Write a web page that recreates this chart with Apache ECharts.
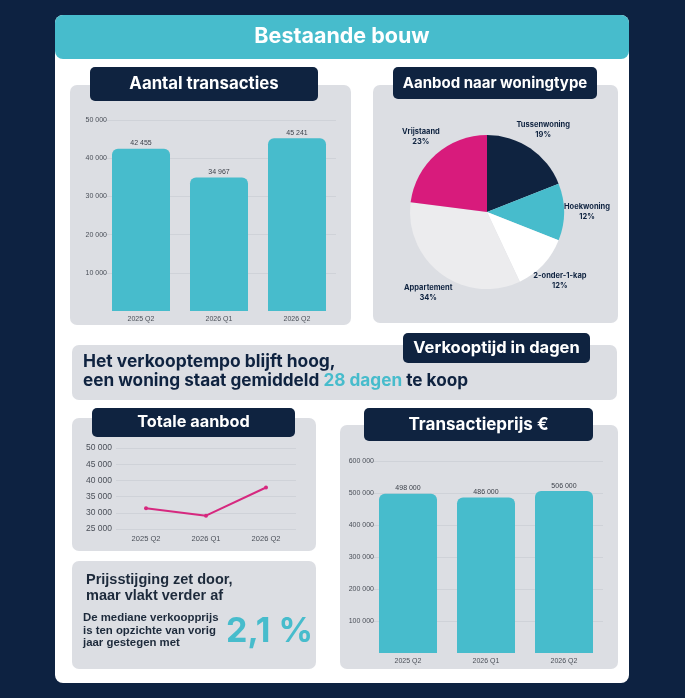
<!DOCTYPE html>
<html>
<head>
<meta charset="utf-8">
<script src="https://cdn.jsdelivr.net/npm/echarts@6/dist/echarts.min.js"></script>
<style>
  html, body { margin: 0; padding: 0; background: #0d2241; }
  #main { width: 685px; height: 698px; }
</style>
</head>
<body>
<div id="main"></div>
<script>
// data
const quarters = ['2025 Q2', '2026 Q1', '2026 Q2'];
const transacties = [42455, 34967, 45241];
const totaalAanbod = [31400, 29100, 37800];
const transactiePrijs = [498000, 486000, 506000];
const woningTypes = ['Tussenwoning', 'Hoekwoning', '2-onder-1-kap', 'Appartement', 'Vrijstaand'];
const woningAandeel = [19, 12, 12, 34, 23];

const NAVY = '#0f2340';
const TEAL = '#47bccc';
const PINK = '#d81b7c';
const PANEL = '#dcdee3';
const TITLE_FONT = 'Inter, "DejaVu Sans", sans-serif';
const BODY_FONT = '"Liberation Sans", Arial, sans-serif';

function fmt(v) {
  return String(v).replace(/\B(?=(\d{3})+(?!\d))/g, ' ');
}

function panel(x, y, w, h) {
  return { type: 'rect', z: 1, shape: { x: x, y: y, width: w, height: h, r: 7 }, style: { fill: PANEL } };
}

function badge(x, y, w, h, text, size) {
  return [
    { type: 'rect', z: 5, shape: { x: x, y: y, width: w, height: h, r: 5 }, style: { fill: NAVY } },
    {
      type: 'text', z: 6, x: x + w / 2, y: y + h / 2,
      style: { text: text, fill: '#fff', font: 'bold ' + size + 'px ' + TITLE_FONT, align: 'center', verticalAlign: 'middle' }
    }
  ];
}

function txt(x, y, text, font, color, align) {
  return {
    type: 'text', z: 6, x: x, y: y,
    style: { text: text, fill: color || NAVY, font: font, align: align || 'left', verticalAlign: 'middle' }
  };
}

const graphics = [
  // white card + teal header
  { type: 'rect', z: 0, shape: { x: 55, y: 15, width: 574, height: 668, r: 8 }, style: { fill: '#ffffff' } },
  { type: 'rect', z: 0, shape: { x: 55, y: 15, width: 574, height: 44, r: 8 }, style: { fill: TEAL } },
  txt(342, 37, 'Bestaande bouw', 'bold 21.5px ' + TITLE_FONT, '#ffffff', 'center'),

  panel(70, 85, 281, 240),
  panel(373, 85, 245, 238),
  panel(72, 345, 545, 55),
  panel(72, 418, 244, 133),
  panel(72, 561, 244, 108),
  panel(340, 425, 278, 244),

  ...badge(90, 67, 228, 34, 'Aantal transacties', 16.8),
  ...badge(393, 67, 204, 32, 'Aanbod naar woningtype', 15),
  ...badge(403, 333, 187, 30, 'Verkooptijd in dagen', 16.5),
  ...badge(92, 408, 203, 29, 'Totale aanbod', 16.3),
  ...badge(364, 408, 229, 33, 'Transactieprijs €', 17),

  // verkooptijd text
  txt(83, 362, 'Het verkooptempo blijft hoog,', 'bold 17.4px ' + TITLE_FONT),
  {
    type: 'text', z: 6, x: 83, y: 381,
    style: {
      text: '{a|een woning staat gemiddeld }{b|28 dagen}{a| te koop}',
      verticalAlign: 'middle',
      rich: {
        a: { font: 'bold 17.2px ' + TITLE_FONT, fill: NAVY },
        b: { font: 'bold 17.2px ' + TITLE_FONT, fill: TEAL }
      }
    }
  },

  // prijsstijging text
  txt(86, 580, 'Prijsstijging zet door,', 'bold 14.5px ' + BODY_FONT, '#1d2a3b'),
  txt(86, 596, 'maar vlakt verder af', 'bold 14.5px ' + BODY_FONT, '#1d2a3b'),
  txt(83, 618, 'De mediane verkoopprijs', 'bold 11.4px ' + BODY_FONT, '#1d2a3b'),
  txt(83, 631, 'is ten opzichte van vorig', 'bold 11.4px ' + BODY_FONT, '#1d2a3b'),
  txt(83, 643, 'jaar gestegen met', 'bold 11.4px ' + BODY_FONT, '#1d2a3b'),
  txt(226, 632, '2,1 %', 'bold 34px ' + TITLE_FONT, TEAL)
];

const axisLabelStyle = { color: '#4a4f58', fontFamily: BODY_FONT, fontSize: 7 };
const splitLine = { show: true, lineStyle: { color: '#cfd2d8', width: 1 } };

const chart = echarts.init(document.getElementById('main'), null, { renderer: 'canvas' });

const option = {
  backgroundColor: '#0d2241',
  animation: false,
  graphic: graphics,
  grid: [
    { left: 102, top: 120, width: 234, height: 191 },
    { left: 116, top: 448, width: 180, height: 81 },
    { left: 369, top: 461, width: 234, height: 192 }
  ],
  xAxis: [
    {
      gridIndex: 0, type: 'category', data: quarters, z: 3,
      axisLine: { show: false }, axisTick: { show: false },
      axisLabel: Object.assign({ margin: 5 }, axisLabelStyle)
    },
    {
      gridIndex: 1, type: 'category', data: quarters, z: 3,
      axisLine: { show: false }, axisTick: { show: false },
      axisLabel: Object.assign({ margin: 6 }, axisLabelStyle, { fontSize: 7.5 })
    },
    {
      gridIndex: 2, type: 'category', data: quarters, z: 3,
      axisLine: { show: false }, axisTick: { show: false },
      axisLabel: Object.assign({ margin: 5 }, axisLabelStyle)
    }
  ],
  yAxis: [
    {
      gridIndex: 0, type: 'value', min: 0, max: 50000, interval: 10000, z: 3,
      splitLine: Object.assign({ showMinLine: false }, splitLine),
      axisLabel: Object.assign({ margin: -5, showMinLabel: false, formatter: fmt }, axisLabelStyle)
    },
    {
      gridIndex: 1, type: 'value', min: 25000, max: 50000, interval: 5000, z: 3,
      splitLine: splitLine,
      axisLabel: Object.assign({ margin: 4, formatter: fmt }, axisLabelStyle, { fontSize: 8.5 })
    },
    {
      gridIndex: 2, type: 'value', min: 0, max: 600000, interval: 100000, z: 3,
      splitLine: Object.assign({ showMinLine: false }, splitLine),
      axisLabel: Object.assign({ margin: -5, showMinLabel: false, formatter: fmt }, axisLabelStyle)
    }
  ],
  series: [
    {
      type: 'bar', xAxisIndex: 0, yAxisIndex: 0, data: transacties, z: 4,
      barWidth: 58,
      itemStyle: { color: TEAL, borderRadius: [6, 6, 0, 0] },
      label: {
        show: true, position: 'top', distance: 2,
        color: '#3a3f48', fontFamily: BODY_FONT, fontSize: 7,
        formatter: p => fmt(p.value)
      }
    },
    {
      type: 'line', xAxisIndex: 1, yAxisIndex: 1, data: totaalAanbod, z: 4,
      symbol: 'circle', symbolSize: 4,
      lineStyle: { color: '#d6287f', width: 2 },
      itemStyle: { color: '#d6287f' }
    },
    {
      type: 'bar', xAxisIndex: 2, yAxisIndex: 2, data: transactiePrijs, z: 4,
      barWidth: 58,
      itemStyle: { color: TEAL, borderRadius: [6, 6, 0, 0] },
      label: {
        show: true, position: 'top', distance: 2,
        color: '#3a3f48', fontFamily: BODY_FONT, fontSize: 7,
        formatter: p => fmt(p.value)
      }
    },
    {
      type: 'pie', center: [487, 212], radius: 77, z: 4,
      startAngle: 90, clockwise: true,
      label: { show: false }, labelLine: { show: false },
      color: [NAVY, TEAL, '#ffffff', '#ececee', PINK],
      data: woningTypes.map((n, i) => ({ name: n, value: woningAandeel[i] })),
      silent: true
    },
    {
      // transparent ring only to place the labels at r ~ 95
      type: 'pie', center: [487, 212], radius: [92, 102], z: 4,
      startAngle: 90, clockwise: true, silent: true,
      itemStyle: { color: 'rgba(0,0,0,0)' },
      labelLine: { show: false },
      label: {
        show: true, position: 'inside', formatter: '{b}\n{c}%',
        color: NAVY, fontFamily: TITLE_FONT, fontWeight: 'bold', fontSize: 7.5, lineHeight: 10
      },
      data: woningTypes.map((n, i) => ({ name: n, value: woningAandeel[i] }))
    }
  ]
};

chart.setOption(option);
</script>
</body>
</html>
